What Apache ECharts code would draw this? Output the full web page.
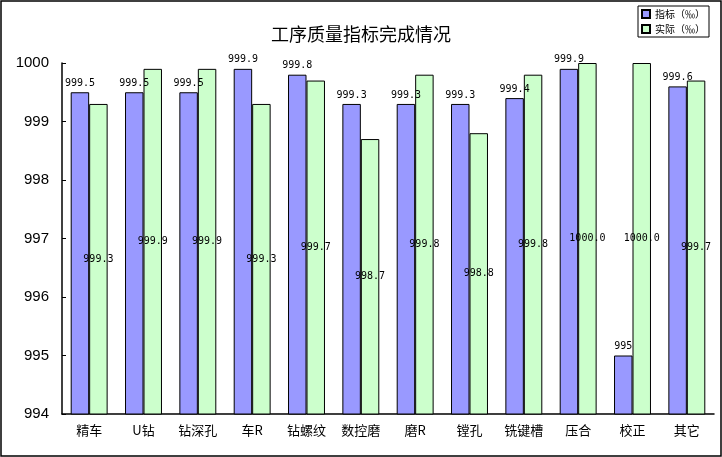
<!DOCTYPE html>
<html><head><meta charset="utf-8">
<script src="https://cdn.jsdelivr.net/npm/echarts@6/dist/echarts.min.js"></script>
<style>html,body{margin:0;padding:0;background:#fff}#c{width:722px;height:457px}</style>
</head><body><div id="c"></div>
<script>
var categories = ['精车','U钻','钻深孔','车R','钻螺纹','数控磨','磨R','镗孔','铣键槽','压合','校正','其它'];
var targetValues = [999.5, 999.5, 999.5, 999.9, 999.8, 999.3, 999.3, 999.3, 999.4, 999.9, 995, 999.6];
var actualValues = [999.3, 999.9, 999.9, 999.3, 999.7, 998.7, 999.8, 998.8, 999.8, 1000.0, 1000.0, 999.7];
var yTicks = [994, 995, 996, 997, 998, 999, 1000];
var seriesNames = ['指标（‰）', '实际（‰）'];
var titleText = '工序质量指标完成情况';

var chart = echarts.init(document.getElementById('c'));
var mono = 'DejaVu Sans Mono';
chart.setOption({
  animation: false,
  backgroundColor: '#fff',
  title: {
    text: titleText, left: 'center', top: 20,
    textStyle: {fontFamily: 'Noto Sans CJK SC', fontSize: 18, fontWeight: 'normal', color: '#000'}
  },
  legend: {
    orient: 'vertical', right: 13, top: 6,
    borderColor: '#000', borderWidth: 1, padding: [3, 4, 3, 3],
    icon: 'rect', itemWidth: 8, itemHeight: 8, itemGap: 5,
    textStyle: {fontFamily: 'Noto Sans CJK SC', fontSize: 10, color: '#000'},
    data: seriesNames
  },
  graphic: [{
    type: 'rect', shape: {x: 1, y: 1, width: 720, height: 455},
    style: {fill: 'none', stroke: '#000', lineWidth: 1.5}, silent: true, z: 100
  }],
  grid: {left: 62, right: 8, top: 63, bottom: 43},
  xAxis: {
    type: 'category', data: categories,
    axisLine: {lineStyle: {color: '#000', width: 1.5}},
    axisTick: {inside: true, length: 3, lineStyle: {color: '#000'}},
    axisLabel: {fontFamily: 'Noto Sans CJK SC', fontSize: 13, color: '#000', margin: 10, interval: 0}
  },
  yAxis: {
    type: 'value', min: yTicks[0], max: yTicks[yTicks.length - 1], interval: 1,
    axisLine: {show: true, lineStyle: {color: '#000', width: 1.5}},
    axisTick: {show: true, inside: true, length: 4, lineStyle: {color: '#000'}},
    splitLine: {show: false},
    axisLabel: {fontFamily: 'Liberation Sans', fontSize: 15, color: '#000', margin: 13,
      formatter: function (v) { return String(v); }}
  },
  series: [{
    name: seriesNames[0], type: 'bar', data: targetValues,
    barGap: '0%', barCategoryGap: '32%',
    itemStyle: {color: '#9999FF', borderColor: '#000', borderWidth: 1},
    label: {show: true, position: 'top', distance: 4, fontFamily: mono, fontSize: 10, color: '#000',
      formatter: function (p) { return String(p.value); }}
  }, {
    name: seriesNames[1], type: 'bar', data: actualValues,
    itemStyle: {color: '#CCFFCC', borderColor: '#000', borderWidth: 1},
    label: {show: true, position: 'inside', fontFamily: mono, fontSize: 10, color: '#000',
      formatter: function (p) { return p.value.toFixed(1); }}
  }]
});
</script></body></html>
